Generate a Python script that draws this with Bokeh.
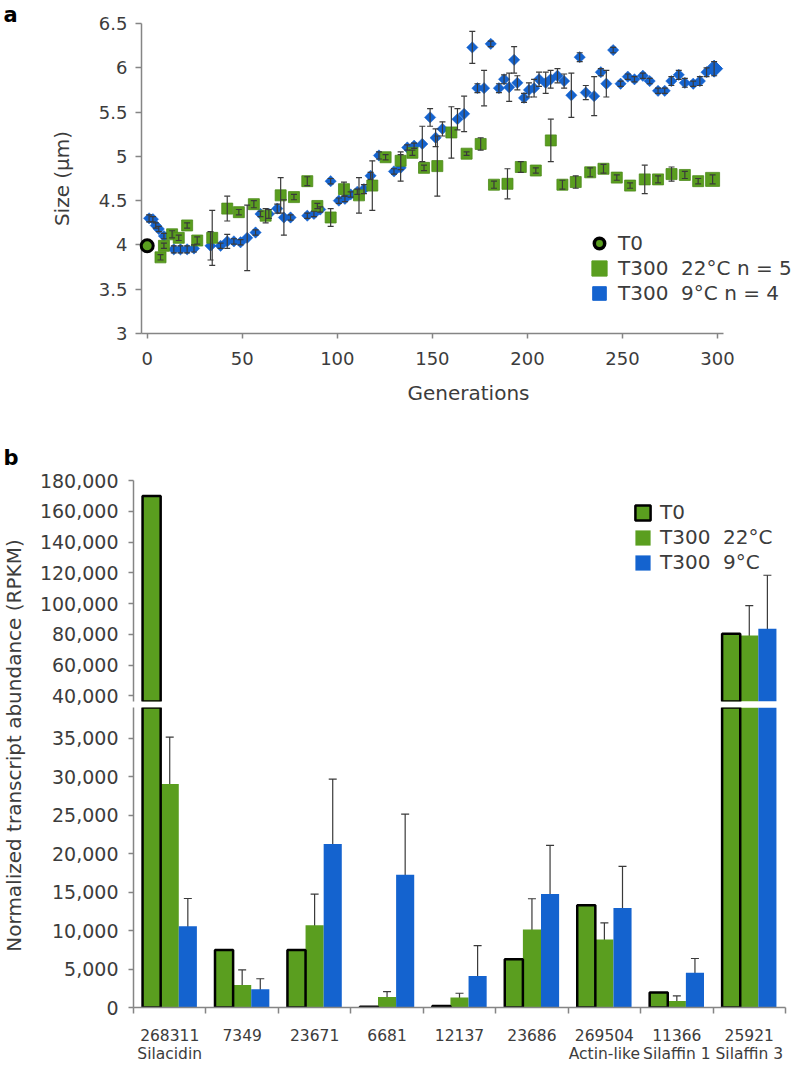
import numpy as np
from bokeh.plotting import figure
from bokeh.models import (ColumnDataSource, Whisker, TeeHead, Legend, LegendItem, Label,
                          FixedTicker, NumeralTickFormatter, Range1d, CDSView, BooleanFilter)
from bokeh.layouts import column, row
from bokeh.transform import dodge
from bokeh.embed import file_html
from bokeh.resources import INLINE

FONT = "DejaVu Sans"
GREEN = "#5a9e1f"
BLUE = "#1463cf"
TXT = "#3c3c3c"
AXC = "#858585"
ERR = "#3a3a3a"

# ---------------- Panel a data ----------------
t0_gen = [0]
t0_size = [3.99]

g22_gen = [7, 8.8, 13.1, 16.6, 21, 26.3, 34.2, 42.1, 48.2, 56.1,
           62.3, 70.2, 77.2, 84.2, 89.5, 96.5, 103.5, 111.4, 118.4, 125.4,
           133.3, 139.5, 145.6, 152.6, 160, 168, 175.4, 182.4, 189.5, 196.5,
           204.4, 212.3, 218.4, 225.4, 233, 240, 247, 254, 261.7, 268.7,
           275.8, 282.8, 289.8, 297.4]
g22_size = [3.86, 3.99, 4.12, 4.08, 4.22, 4.05, 4.08, 4.41, 4.37, 4.46,
            4.33, 4.56, 4.54, 4.72, 4.44, 4.31, 4.63, 4.56, 4.67, 4.99,
            4.95, 5.04, 4.87, 4.89, 5.27, 5.03, 5.14, 4.68, 4.69, 4.88,
            4.84, 5.18, 4.68, 4.71, 4.82, 4.86, 4.76, 4.67, 4.74, 4.74,
            4.80, 4.79, 4.72, 4.74]
g22_err = [0.03, 0.03, 0.04, 0.03, 0.03, 0.04, 0.31, 0.14, 0.03, 0.04,
           0.08, 0.20, 0.03, 0.05, 0.03, 0.10, 0.08, 0.20, 0.28, 0.03,
           0.10, 0.03, 0.03, 0.34, 0.29, 0.02, 0.07, 0.04, 0.17, 0.06,
           0.03, 0.24, 0.05, 0.07, 0.05, 0.05, 0.03, 0.03, 0.16, 0.04,
           0.08, 0.04, 0.03, 0.05]

b9_gen = [1, 3, 4.5, 6.1, 8.8, 14, 17.5, 21, 24.6, 33.3,
          38.6, 42.1, 45.6, 49.1, 52.6, 57, 59.6, 64, 68.4, 71.9,
          75.4, 84.2, 87.7, 91, 96.5, 100.8, 104, 107, 110.5, 114,
          117.5, 121.9, 129.8, 133.3, 136.8, 140.4, 144.7, 148.8, 151.7, 155.3,
          163.2, 166.7, 171, 173.7, 177.2, 180.7, 185, 187.7, 190.4, 193,
          194.7, 198.2, 200.8, 203.5, 206.1, 209.6, 212.2, 215.8, 219.3, 223.1,
          227.5, 230.7, 235.1, 238.6, 241.5, 245.1, 249, 252.8, 256.3, 260.7,
          264.3, 268.7, 272.2, 275.7, 279.6, 282.8, 287.2, 290.7, 294.2, 298.2]
b9_size = [4.30, 4.29, 4.22, 4.18, 4.10, 3.95, 3.95, 3.95, 3.96, 3.99,
           3.99, 4.04, 4.04, 4.03, 4.08, 4.14, 4.35, 4.35, 4.41, 4.31,
           4.31, 4.33, 4.35, 4.40, 4.72, 4.50, 4.52, 4.57, 4.60, 4.63,
           4.78, 5.01, 4.83, 4.87, 5.10, 5.12, 5.14, 5.44, 5.21, 5.31,
           5.42, 5.48, 6.23, 5.77, 5.77, 6.27, 5.77, 5.87, 5.78, 6.09,
           5.83, 5.66, 5.75, 5.77, 5.87, 5.83, 5.87, 5.91, 5.85, 5.69,
           6.12, 5.72, 5.68, 5.95, 5.82, 6.20, 5.82, 5.90, 5.87, 5.91,
           5.85, 5.74, 5.74, 5.85, 5.92, 5.83, 5.82, 5.85, 5.95, 5.99]
b9_err = [0.04, 0.03, 0.03, 0.03, 0.03, 0.04, 0.04, 0.04, 0.04, 0.16,
          0.03, 0.08, 0.03, 0.03, 0.37, 0.03, 0.03, 0.05, 0.05, 0.20,
          0.03, 0.03, 0.03, 0.03, 0.03, 0.03, 0.03, 0.03, 0.03, 0.05,
          0.04, 0.04, 0.03, 0.15, 0.03, 0.03, 0.20, 0.10, 0.10, 0.08,
          0.12, 0.20, 0.18, 0.05, 0.20, 0.03, 0.05, 0.05, 0.16, 0.15,
          0.08, 0.05, 0.08, 0.10, 0.08, 0.12, 0.10, 0.08, 0.08, 0.25,
          0.05, 0.08, 0.22, 0.04, 0.15, 0.03, 0.03, 0.03, 0.03, 0.03,
          0.03, 0.03, 0.03, 0.05, 0.05, 0.05, 0.03, 0.05, 0.05, 0.08]

gen_ticks = [0, 50, 100, 150, 200, 250, 300]
size_ticks = [3, 3.5, 4, 4.5, 5, 5.5, 6, 6.5]

# ---------------- Panel b data ----------------
genes = ["268311", "7349", "23671", "6681", "12137", "23686", "269504", "11366", "25921"]
gene_notes = ["Silacidin", "", "", "", "", "", "Actin-like", "Silaffin 1", "Silaffin 3"]
rpkm_t0 = [170000, 7460, 7460, 100, 200, 6260, 13290, 1940, 80300]
rpkm_22 = [29050, 2930, 10700, 1370, 1300, 10140, 8850, 860, 79200]
err_22 = [6100, 1950, 4050, 700, 550, 4000, 2150, 650, 19500]
rpkm_9 = [10570, 2370, 21240, 17270, 4100, 14770, 12950, 4530, 83600]
err_9 = [3600, 1370, 8460, 7880, 3950, 6300, 5400, 1840, 34800]
ticks_upper = [40000, 60000, 80000, 100000, 120000, 140000, 160000, 180000]
ticks_lower = [0, 5000, 10000, 15000, 20000, 25000, 30000, 35000]
UPPER_START = 36300
LOWER_END = 39000


def style_axis(ax, size):
    ax.axis_line_color = AXC
    ax.axis_line_width = 1.5
    ax.major_tick_line_color = AXC
    ax.major_tick_line_width = 1.5
    ax.minor_tick_line_color = None
    ax.major_label_text_font = FONT
    ax.major_label_text_font_size = size
    ax.major_label_text_color = TXT
    ax.axis_label_text_font = FONT
    ax.axis_label_text_font_style = "normal"
    ax.axis_label_text_color = TXT


def blank_fig(w, h):
    f = figure(width=w, height=h, output_backend="svg", toolbar_location=None,
               x_axis_location=None, y_axis_location=None, min_border=0)
    f.grid.visible = False
    f.outline_line_color = None
    return f


# ================= Panel a =================
a_fig = blank_fig(22, 430)
a_fig.add_layout(Label(x=3, y=416, x_units="screen", y_units="screen", text="a",
                       text_align="left", text_baseline="middle", text_font=FONT,
                       text_font_size="21px", text_font_style="bold", text_color="black"))

pa = figure(width=776, height=430, x_range=Range1d(-3, 341), y_range=Range1d(3, 6.5),
            output_backend="svg", toolbar_location=None,
            min_border_left=119, min_border_right=3, min_border_top=23, min_border_bottom=97)
pa.grid.visible = False
pa.outline_line_color = None
for ax in (pa.xaxis[0], pa.yaxis[0]):
    style_axis(ax, "18px")
    ax.axis_label_text_font_size = "20px"
pa.xaxis.ticker = FixedTicker(ticks=gen_ticks)
pa.xaxis.bounds = (-3, 303)
pa.yaxis.ticker = FixedTicker(ticks=size_ticks)
pa.yaxis.formatter = NumeralTickFormatter(format="0.[0]")
pa.xaxis.axis_label = "Generations"
pa.yaxis.axis_label = "Size (µm)"
pa.xaxis.major_tick_in = 0
pa.xaxis.major_tick_out = 5
pa.xaxis.major_label_standoff = 13
pa.xaxis.axis_label_standoff = 13
pa.yaxis.major_tick_in = 0
pa.yaxis.major_tick_out = 6
pa.yaxis.major_label_standoff = 8
pa.yaxis.axis_label_standoff = 22

src9 = ColumnDataSource(dict(gen=b9_gen, size=b9_size,
                             lo=[v - e for v, e in zip(b9_size, b9_err)],
                             hi=[v + e for v, e in zip(b9_size, b9_err)]))
src22 = ColumnDataSource(dict(gen=g22_gen, size=g22_size,
                              lo=[v - e for v, e in zip(g22_size, g22_err)],
                              hi=[v + e for v, e in zip(g22_size, g22_err)]))
src_end9 = ColumnDataSource(dict(gen=b9_gen[-1:], size=b9_size[-1:]))
src_end22 = ColumnDataSource(dict(gen=g22_gen[-1:], size=g22_size[-1:]))
src0 = ColumnDataSource(dict(gen=t0_gen, size=t0_size))

pa.scatter("gen", "size", source=src9, marker="square", angle=np.pi / 4, size=8,
           fill_color=BLUE, line_color=BLUE, line_width=0.5)
pa.scatter("gen", "size", source=src_end9, marker="square", angle=np.pi / 4, size=12,
           fill_color=BLUE, line_color=BLUE)
pa.scatter("gen", "size", source=src22, marker="square", size=11,
           fill_color=GREEN, line_color="#4d8a1a", line_width=0.8)
pa.scatter("gen", "size", source=src_end22, marker="square", size=14,
           fill_color=GREEN, line_color="#4d8a1a", line_width=0.8)
for s in (src9, src22):
    pa.add_layout(Whisker(source=s, base="gen", lower="lo", upper="hi", dimension="height",
                          line_color=ERR, line_width=1.2, level="overlay",
                          upper_head=TeeHead(size=6, line_color=ERR, line_width=1.2),
                          lower_head=TeeHead(size=6, line_color=ERR, line_width=1.2)))
pa.scatter("gen", "size", source=src0, marker="circle", size=12,
           fill_color=GREEN, line_color="black", line_width=3, level="overlay")

# hidden renderers used only as legend symbols
lg0 = pa.scatter("gen", "size", source=src0, marker="circle", size=12,
                 fill_color=GREEN, line_color="black", line_width=3.5, visible=False)
lg22 = pa.scatter("gen", "size", source=src22, marker="square", size=16,
                  fill_color=GREEN, line_color=GREEN, visible=False)
lg9 = pa.scatter("gen", "size", source=src9, marker="square", angle=np.pi / 4, size=13.5,
                 fill_color=BLUE, line_color=BLUE, visible=False)

# one legend per entry so that each symbol can have its own size
for lbl, rend, box, loc, standoff in (("T0", lg0, 26, (445, 77), 6),
                                      ("T300  22°C n = 5", lg22, 38, (439, 46), 0),
                                      ("T300  9°C n = 4", lg9, 34, (441, 23), 2)):
    pa.add_layout(Legend(items=[LegendItem(label=lbl, renderers=[rend])],
                         location=loc, orientation="vertical",
                         background_fill_alpha=0, border_line_color=None, padding=0, margin=0,
                         spacing=0, glyph_width=box, glyph_height=box, label_height=22,
                         label_standoff=standoff, label_text_font=FONT,
                         label_text_font_size="20px", label_text_color=TXT))

# ================= Panel b =================
pos = [i + 0.5 for i in range(len(genes))]
src_b = ColumnDataSource(dict(
    pos=pos, t0=rpkm_t0, t22=rpkm_22, t9=rpkm_9,
    lo22=[v - e for v, e in zip(rpkm_22, err_22)], hi22=[v + e for v, e in zip(rpkm_22, err_22)],
    lo9=[v - e for v, e in zip(rpkm_9, err_9)], hi9=[v + e for v, e in zip(rpkm_9, err_9)]))


def draw_bars(p, threshold=None):
    def view(vals):
        if threshold is None:
            return CDSView()
        return CDSView(filter=BooleanFilter([v > threshold for v in vals]))
    r22b = p.vbar(x=dodge("pos", 0.0), top="t22", bottom=0, width=0.25, source=src_b,
                  view=view(rpkm_22), fill_color=GREEN, line_color=None)
    r9b = p.vbar(x=dodge("pos", 0.25), top="t9", bottom=0, width=0.25, source=src_b,
                 view=view(rpkm_9), fill_color=BLUE, line_color=None)
    r0b = p.vbar(x=dodge("pos", -0.25), top="t0", bottom=0, width=0.25, source=src_b,
                 view=view(rpkm_t0), fill_color=GREEN, line_color="black", line_width=2.5)
    for off, lo, hi in ((0.0, "lo22", "hi22"), (0.25, "lo9", "hi9")):
        p.add_layout(Whisker(source=src_b, base=dodge("pos", off), lower=lo, upper=hi,
                             dimension="height", line_color=ERR, line_width=1.2,
                             upper_head=TeeHead(size=8, line_color=ERR, line_width=1.2),
                             lower_head=TeeHead(size=8, line_color=ERR, line_width=1.2)))
    return r0b, r22b, r9b


pb_top = figure(width=772, height=277, x_range=Range1d(0, len(genes)),
                y_range=Range1d(UPPER_START, 180000), output_backend="svg",
                toolbar_location=None, x_axis_location=None,
                min_border_left=107, min_border_right=13, min_border_top=50, min_border_bottom=6)
pb_bot = figure(width=772, height=358, x_range=pb_top.x_range,
                y_range=Range1d(0, LOWER_END), output_backend="svg", toolbar_location=None,
                min_border_left=107, min_border_right=13, min_border_top=0, min_border_bottom=57)
for p, ticks in ((pb_top, ticks_upper), (pb_bot, ticks_lower)):
    p.grid.visible = False
    p.outline_line_color = None
    style_axis(p.yaxis[0], "19px")
    p.yaxis.ticker = FixedTicker(ticks=ticks)
    p.yaxis.formatter = NumeralTickFormatter(format="0,0")
    p.yaxis.major_tick_in = 0
    p.yaxis.major_tick_out = 5
    p.yaxis.major_label_standoff = 10

style_axis(pb_bot.xaxis[0], "15.5px")
pb_bot.xaxis.ticker = FixedTicker(ticks=pos, minor_ticks=list(range(len(genes) + 1)))
pb_bot.xaxis.major_tick_line_color = None
pb_bot.xaxis.major_tick_in = 0
pb_bot.xaxis.major_tick_out = 0
pb_bot.xaxis.minor_tick_line_color = AXC
pb_bot.xaxis.minor_tick_line_width = 1.5
pb_bot.xaxis.minor_tick_in = 0
pb_bot.xaxis.minor_tick_out = 6
pb_bot.xaxis.major_label_standoff = 13
pb_bot.xaxis.major_label_text_line_height = 1.0
pb_bot.xaxis.major_label_overrides = {
    p_: (g + ("\n" + n if n else "")) for p_, g, n in zip(pos, genes, gene_notes)}

rt0, rt22, rt9 = draw_bars(pb_top, threshold=UPPER_START)
draw_bars(pb_bot)

leg_b = Legend(items=[LegendItem(label="T0", renderers=[rt0]),
                      LegendItem(label="T300  22°C", renderers=[rt22]),
                      LegendItem(label="T300  9°C", renderers=[rt9])],
               location=(500, 127), orientation="vertical",
               background_fill_alpha=0, border_line_color=None, padding=0, margin=0,
               spacing=1, glyph_width=19, glyph_height=19, label_height=22,
               label_standoff=8, label_text_font=FONT, label_text_font_size="20px",
               label_text_color=TXT)
pb_top.add_layout(leg_b)

lab = blank_fig(26, 635)
lab.add_layout(Label(x=13, y=320, x_units="screen", y_units="screen",
                     text="Normalized transcript abundance (RPKM)", angle=np.pi / 2,
                     text_align="center", text_baseline="middle", text_font=FONT,
                     text_font_size="20px", text_color=TXT))
lab.add_layout(Label(x=3, y=608, x_units="screen", y_units="screen", text="b",
                     text_align="left", text_baseline="middle", text_font=FONT,
                     text_font_size="21px", text_font_style="bold", text_color="black"))

layout = column(row(a_fig, column(pa)), row(lab, column(pb_top, pb_bot)))
open("out.html", "w").write(file_html(layout, INLINE))
